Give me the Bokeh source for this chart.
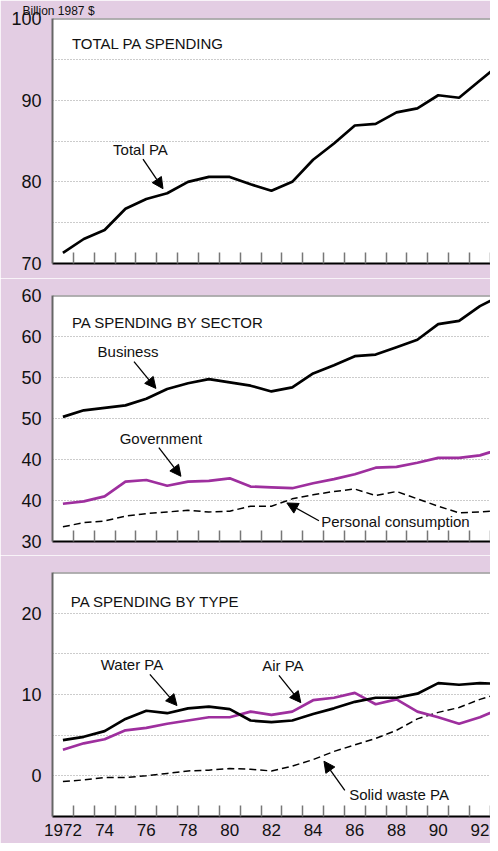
from bokeh.plotting import figure
from bokeh.layouts import column
from bokeh.models import Range1d, FixedTicker, Label, Arrow, NormalHead, Span, Title
from bokeh.embed import file_html
from bokeh.resources import INLINE

# ---- data (billion 1987 $) ----
years = list(range(1972, 1994))
total_pa = [71.3, 73.0, 74.1, 76.7, 77.9, 78.6, 80.0, 80.6, 80.6, 79.7, 78.9,
            80.0, 82.7, 84.7, 86.9, 87.1, 88.5, 89.0, 90.6, 90.3, 92.4, 94.5]
business = [45.2, 46.0, 46.3, 46.6, 47.4, 48.6, 49.3, 49.8, 49.4, 49.0, 48.3,
            48.8, 50.5, 51.5, 52.6, 52.8, 53.7, 54.6, 56.5, 56.9, 58.7, 60.0]
government = [34.6, 34.9, 35.5, 37.3, 37.5, 36.8, 37.3, 37.4, 37.7, 36.7, 36.6,
              36.5, 37.1, 37.6, 38.2, 39.0, 39.1, 39.6, 40.2, 40.2, 40.5, 41.3]
personal = [31.8, 32.3, 32.5, 33.1, 33.4, 33.6, 33.8, 33.6, 33.7, 34.3, 34.3,
            35.2, 35.7, 36.1, 36.4, 35.6, 36.1, 35.2, 34.3, 33.5, 33.6, 33.8]
water = [4.4, 4.8, 5.5, 7.0, 8.0, 7.7, 8.3, 8.5, 8.2, 6.8, 6.6,
         6.8, 7.6, 8.3, 9.1, 9.6, 9.6, 10.1, 11.4, 11.2, 11.4, 11.3]
air = [3.2, 4.0, 4.5, 5.6, 5.9, 6.4, 6.8, 7.2, 7.2, 7.9, 7.5,
       7.9, 9.3, 9.6, 10.2, 8.8, 9.4, 7.9, 7.2, 6.4, 7.2, 8.3]
solid = [-0.7, -0.5, -0.2, -0.2, 0.0, 0.3, 0.6, 0.7, 0.9, 0.8, 0.6,
         1.2, 2.0, 3.0, 3.8, 4.6, 5.6, 7.0, 7.8, 8.4, 9.4, 10.2]

x_label_years = list(range(1972, 1993, 2))
x_tick_labels = ["1972", "74", "76", "78", "80", "82", "84", "86", "88", "90", "92"]
x_minor = [y + 0.5 for y in range(1972, 1993)]

p1_ticks = [70, 80, 90, 100]
p1_labels = ["70", "80", "90", "100"]
p1_grid = [75, 80, 85, 90, 95]
p2_ticks = [30, 35, 40, 45, 50, 55, 60]
p2_labels = ["30", "40", "40", "50", "50", "60", "60"]
p2_grid = [35, 40, 45, 50, 55]
p3_ticks = [0, 10, 20]
p3_labels = ["0", "10", "20"]
p3_grid = [0, 5, 10, 15, 20]

PINK = "#e3cde3"
PURPLE = "#9e2f9e"
FONT = "Liberation Sans"
NOTE_SIZE = "15px"
XR = (1971.5, 1971.5 + 438 / 20.85)


def make_panel(h, top, bottom, y0, y1, ticks, labels, grid, show_x):
    p = figure(width=490, height=h, title=None,
               x_range=Range1d(*XR), y_range=Range1d(y0, y1),
               output_backend="svg", toolbar_location=None,
               min_border_left=52, min_border_right=0,
               min_border_top=top, min_border_bottom=bottom,
               background_fill_color="white", border_fill_color=PINK,
               outline_line_color=None)
    p.xgrid.visible = False
    p.ygrid.ticker = FixedTicker(ticks=grid)
    p.ygrid.grid_line_color = "#999999"
    p.ygrid.grid_line_dash = "1 2"
    p.ygrid.grid_line_width = 1

    ya = p.yaxis[0]
    ya.ticker = FixedTicker(ticks=ticks)
    ya.major_label_overrides = {t: l for t, l in zip(ticks, labels)}
    ya.major_tick_in = 0
    ya.major_tick_out = 0
    ya.minor_tick_in = 0
    ya.minor_tick_out = 0
    ya.axis_line_color = "#666666"
    ya.axis_line_width = 2
    ya.major_label_standoff = 11
    ya.major_label_text_font = FONT
    ya.major_label_text_font_size = "18px"
    ya.major_label_text_color = "#111111"

    xa = p.xaxis[0]
    if show_x:
        xa.ticker = FixedTicker(ticks=x_label_years, minor_ticks=x_minor)
        xa.major_label_overrides = {t: l for t, l in zip(x_label_years, x_tick_labels)}
        xa.major_label_text_font = FONT
        xa.major_label_text_font_size = "17px"
        xa.major_label_text_color = "#111111"
        xa.major_label_standoff = 7
    else:
        xa.ticker = FixedTicker(ticks=[], minor_ticks=x_minor)
        xa.major_label_text_font_size = "0px"
        xa.major_label_standoff = 0
    xa.major_tick_in = 0
    xa.major_tick_out = 0
    xa.minor_tick_in = 11
    xa.minor_tick_out = 0
    xa.minor_tick_line_color = "#777777"
    xa.minor_tick_line_width = 1.5
    xa.axis_line_color = "black"
    xa.axis_line_width = 2

    p.add_layout(Span(location=y1, dimension="width", line_color="#666666", line_width=2))
    return p


def note(p, x, y, text, align="center", baseline="middle"):
    p.add_layout(Label(x=x, y=y, text=text, text_font=FONT, text_font_size=NOTE_SIZE,
                       text_align=align, text_baseline=baseline, text_color="#111111"))


def arrow(p, xs, ys, xe, ye):
    p.add_layout(Arrow(end=NormalHead(size=11, fill_color="black", line_color="black", line_width=1),
                       x_start=xs, y_start=ys, x_end=xe, y_end=ye,
                       line_color="black", line_width=1.3))


# ---- panel 1 ----
p1 = make_panel(278, 18, 15, 70, 100, p1_ticks, p1_labels, p1_grid, False)
p1.add_layout(Title(text="Billion 1987 $", align="left", offset=-30, standoff=2,
                    text_font=FONT, text_font_size="12px", text_font_style="normal",
                    text_color="#111111"), "above")
p1.line(years, total_pa, line_color="black", line_width=2.7)
note(p1, 1972.43, 97.0, "TOTAL PA SPENDING", align="left", baseline="alphabetic")
note(p1, 1975.72, 84.0, "Total PA")
arrow(p1, 1975.84, 82.77, 1976.80, 79.16)

# ---- panel 2 ----
p2 = make_panel(277, 17, 14, 30, 60, p2_ticks, p2_labels, p2_grid, False)
p2.line(years, personal, line_color="black", line_width=1.5, line_dash="7 4")
p2.line(years, government, line_color=PURPLE, line_width=2.7)
p2.line(years, business, line_color="black", line_width=2.7)
note(p2, 1972.43, 56.75, "PA SPENDING BY SECTOR", align="left", baseline="alphabetic")
note(p2, 1975.12, 53.13, "Business")
arrow(p2, 1975.41, 51.93, 1976.46, 48.67)
note(p2, 1976.70, 42.53, "Government")
arrow(p2, 1976.60, 41.45, 1977.66, 37.95)
note(p2, 1987.95, 32.41, "Personal consumption")
arrow(p2, 1984.28, 32.53, 1982.74, 34.7)

# ---- panel 3 ----
p3 = make_panel(288, 17, 27, -5, 25, p3_ticks, p3_labels, p3_grid, True)
p3.line(years, solid, line_color="black", line_width=1.5, line_dash="7 4")
p3.line(years, air, line_color=PURPLE, line_width=2.7)
p3.line(years, water, line_color="black", line_width=2.7)
note(p3, 1972.38, 21.4, "PA SPENDING BY TYPE", align="left", baseline="alphabetic")
note(p3, 1975.31, 13.68, "Water PA")
arrow(p3, 1976.17, 12.48, 1977.47, 8.64)
note(p3, 1982.55, 13.56, "Air PA")
arrow(p3, 1982.36, 12.36, 1983.41, 9.0)
note(p3, 1988.12, -2.28, "Solid waste PA")
arrow(p3, 1985.52, -1.8, 1984.52, 1.8)

layout = column(p1, p2, p3, spacing=0)
open("out.html", "w").write(file_html(layout, INLINE))
